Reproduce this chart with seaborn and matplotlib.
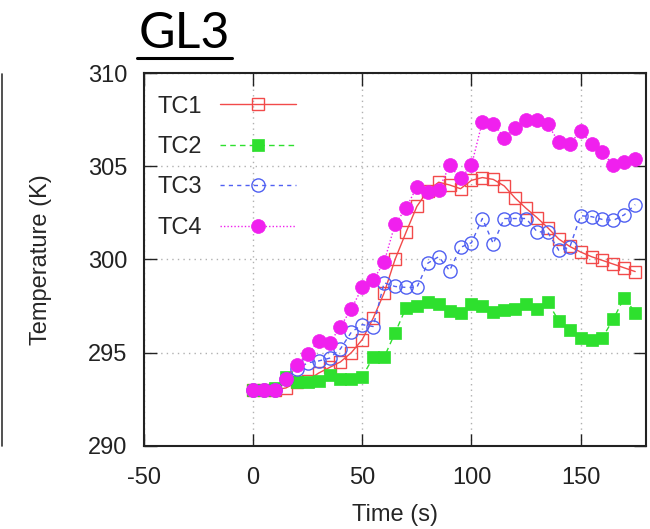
import pandas as pd
import numpy as np
import seaborn as sns
import matplotlib.pyplot as plt
from matplotlib.lines import Line2D

# time steps (s)
time_s = [0, 5, 10, 15, 20, 25, 30, 35, 40, 45, 50, 55, 60, 65, 70, 75, 80, 85,
          90, 95, 100, 105, 110, 115, 120, 125, 130, 135, 140, 145, 150, 155, 160, 165, 170, 175]

tc1 = [293.0, 293.0, 293.0, 293.1, 293.4, 293.5, 293.9, 294.2, 294.5, 295.0, 295.7, 296.85,
       298.2, 300.0, 301.45, 302.85, 303.7, 304.15, 304.0, 303.8, 304.25, 304.4, 304.3, 303.95,
       303.3, 302.75, 302.25, 301.7, 301.1, 300.7, 300.4, 300.15, 299.95, 299.75, 299.55, 299.35]
tc2 = [293.0, 293.0, 293.1, 293.7, 293.4, 293.4, 293.5, 293.8, 293.6, 293.6, 293.7, 294.75,
       294.75, 296.05, 297.4, 297.5, 297.7, 297.6, 297.25, 297.1, 297.6, 297.5, 297.2, 297.3,
       297.35, 297.6, 297.35, 297.7, 296.7, 296.2, 295.8, 295.7, 295.8, 296.8, 297.95, 297.15]
tc3 = [293.0, 293.0, 293.0, 293.6, 294.1, 294.45, 294.55, 294.7, 295.2, 296.1, 296.5, 296.4,
       298.75, 298.55, 298.5, 298.5, 299.8, 300.15, 299.4, 300.65, 300.9, 302.2, 300.85, 302.2,
       302.2, 302.2, 301.5, 301.45, 300.5, 300.65, 302.35, 302.3, 302.15, 302.1, 302.4, 302.95]
tc4 = [293.0, 293.0, 293.0, 293.6, 294.35, 294.95, 295.6, 295.5, 296.4, 297.35, 298.5, 298.9,
       299.85, 301.9, 302.75, 303.9, 303.65, 303.75, 305.05, 304.35, 305.05, 307.4, 307.3, 306.55,
       307.05, 307.5, 307.5, 307.25, 306.3, 306.2, 306.9, 306.2, 305.75, 305.05, 305.25, 305.4]

series = ["TC1", "TC2", "TC3", "TC4"]
x_ticks = [-50, 0, 50, 100, 150]
y_ticks = [290, 295, 300, 305, 310]

df = pd.DataFrame({"Time": time_s, "TC1": tc1, "TC2": tc2, "TC3": tc3, "TC4": tc4})
df = df.melt(id_vars="Time", var_name="Sensor", value_name="Temp")

sns.set_style("ticks")
plt.rcParams['font.family'] = ['Liberation Sans', 'DejaVu Sans']
plt.rcParams['axes.unicode_minus'] = False

fig = plt.figure(figsize=(6.5, 5.29), dpi=100)
ax = fig.add_axes([0.2215, 0.1575, 0.7725, 0.704])

styles = {
    "TC1": dict(color="#f24a4a", linestyle="-", marker="s", markersize=9,
                markerfacecolor="none", markeredgecolor="#f24a4a", markeredgewidth=1.0, linewidth=1.0),
    "TC2": dict(color="#2ee02e", linestyle=(0, (4, 3)), marker="s", markersize=9,
                markerfacecolor="#2ee02e", markeredgecolor="#2ee02e", markeredgewidth=0.5, linewidth=1.0),
    "TC3": dict(color="#5060f2", linestyle=(0, (3, 3)), marker="o", markersize=9.5,
                markerfacecolor="none", markeredgecolor="#5060f2", markeredgewidth=1.0, linewidth=1.0),
    "TC4": dict(color="#f020ee", linestyle=(0, (1, 1.5)), marker="o", markersize=10,
                markerfacecolor="#f020ee", markeredgecolor="#f020ee", markeredgewidth=0.5, linewidth=1.0),
}

for s in series:
    sub = df[df["Sensor"] == s]
    sns.lineplot(data=sub, x="Time", y="Temp", ax=ax, label=s, **styles[s])

ax.set_xlim(-50, 180)
ax.set_ylim(290, 310)
ax.set_xticks(x_ticks)
ax.set_yticks(y_ticks)
ax.grid(True, color="#b0b0b0", linestyle=(0, (1, 3)), linewidth=1.0)
ax.tick_params(direction="in", length=9, width=1, top=True, right=True,
               labelsize=17, colors="#222222")
ax.tick_params(axis="x", pad=15)
ax.tick_params(axis="y", pad=12)
for sp in ax.spines.values():
    sp.set_linewidth(1.5)
    sp.set_color("#222222")

ax.set_xlabel("Time (s)", fontsize=17, labelpad=11)
ax.set_ylabel("Temperature (K)", fontsize=17, labelpad=26)

ax.legend(loc="upper left", bbox_to_anchor=(0.026, 0.94), frameon=False, markerfirst=False,
          fontsize=17, handlelength=3.2, handletextpad=0.8, labelspacing=0.78,
          borderaxespad=0.0, borderpad=0.0)

# panel title, underlined
title = fig.text(139 / 650, 1 - 48 / 529, "GL3", fontsize=36, family=["Lato", "DejaVu Sans"],
                 ha="left", va="baseline", color="black")
fig.canvas.draw()
bb = title.get_window_extent().transformed(fig.transFigure.inverted())
fig.add_artist(Line2D([bb.x0 - 0.003, bb.x1 + 0.003], [1 - 57.5 / 529, 1 - 57.5 / 529],
                      transform=fig.transFigure, color="black", linewidth=2.2))

# edge of the neighbouring panel on the left
fig.add_artist(Line2D([2 / 650, 2 / 650], [1 - 73.5 / 529, 1 - 445.5 / 529], transform=fig.transFigure,
                      color="#333333", linewidth=1.2))

plt.savefig("out.png", dpi=100)
